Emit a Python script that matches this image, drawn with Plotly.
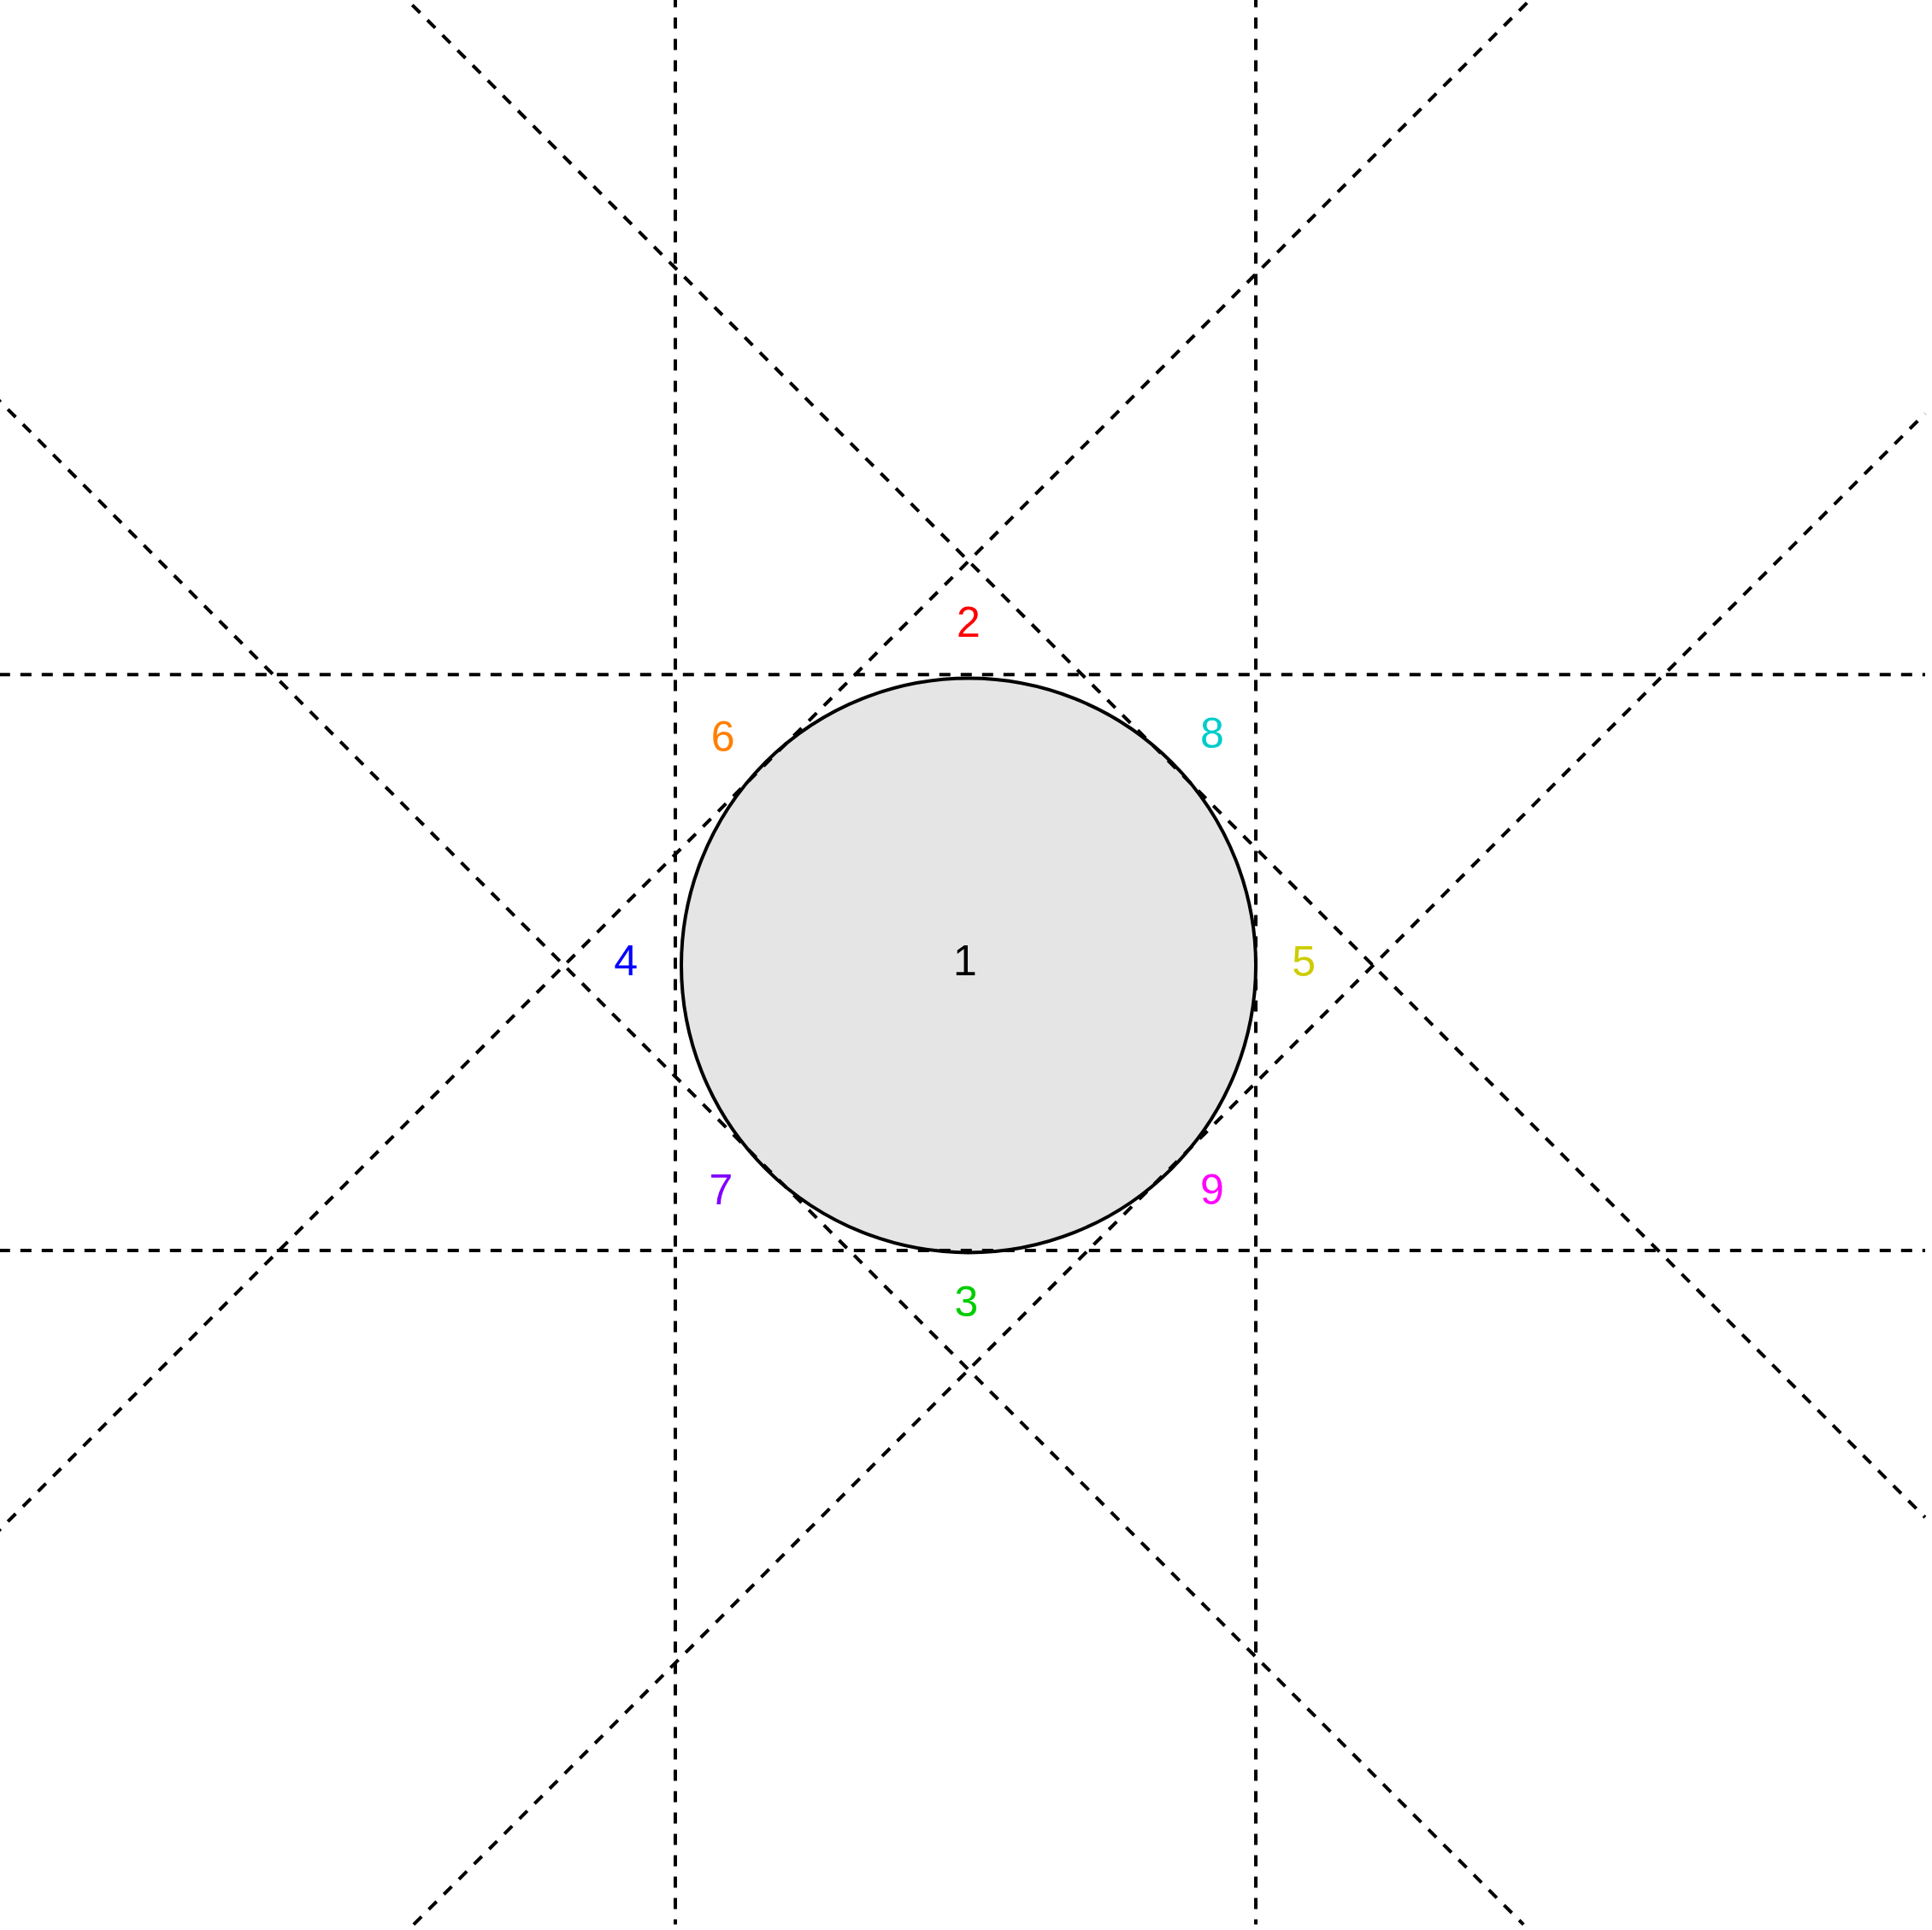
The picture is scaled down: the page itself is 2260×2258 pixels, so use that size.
import plotly.graph_objects as go

# ---- data (data units, circle radius = 1) ----
CIRCLE_CX = 0.0
CIRCLE_CY = 0.0
CIRCLE_R = 1.0
CIRCLE_FILL = "rgb(229,229,229)"

VLINES_X = [-1.021, 1.0]
HLINES_Y = [1.013, -0.993]
DIAG_C = 1.408
DIAG_SLOPES = [-1, -1, 1, 1]
DIAG_INTERCEPTS = [DIAG_C, -DIAG_C, DIAG_C, -DIAG_C]

LABELS = ["1", "2", "3", "4", "5", "6", "7", "8", "9"]
LABEL_X = [-0.012, 0.0, -0.008, -1.193, 1.167, -0.855, -0.862, 0.848, 0.848]
LABEL_Y = [0.004, 1.183, -1.184, 0.004, 0.001, 0.784, -0.795, 0.796, -0.795]
LABEL_COLORS = ["#000000", "#ff0000", "#00cc00", "#0000ff", "#cccc00",
                "#ff8000", "#8000ff", "#00cccc", "#ff00ff"]

X_RANGE = [-3.372, 3.354]
Y_RANGE = [-3.359, 3.362]
EXT_XLO, EXT_XHI = -3.45, 3.33
EXT_YLO, EXT_YHI = -3.34, 3.45

LINE_STYLE = dict(color="black", width=4, dash="13px,12px")

fig = go.Figure()

for xv in VLINES_X:
    fig.add_trace(go.Scatter(x=[xv, xv], y=[EXT_YHI, EXT_YLO], mode="lines",
                             line=LINE_STYLE, hoverinfo="skip", showlegend=False))
for yv in HLINES_Y:
    fig.add_trace(go.Scatter(x=[EXT_XLO, EXT_XHI], y=[yv, yv], mode="lines",
                             line=LINE_STYLE, hoverinfo="skip", showlegend=False))

for m, b in zip(DIAG_SLOPES, DIAG_INTERCEPTS):
    if m > 0:
        lo, hi = EXT_YLO - b, EXT_YHI - b
    else:
        lo, hi = b - EXT_YHI, b - EXT_YLO
    x0 = max(EXT_XLO, lo)
    x1 = min(EXT_XHI, hi)
    fig.add_trace(go.Scatter(x=[x0, x1], y=[m * x0 + b, m * x1 + b], mode="lines",
                             line=LINE_STYLE, hoverinfo="skip", showlegend=False))

fig.add_trace(go.Scatter(x=LABEL_X, y=LABEL_Y, mode="text", text=LABELS,
                         textposition="middle center",
                         textfont=dict(family="Liberation Sans, Arial, sans-serif",
                                       size=50, color=LABEL_COLORS),
                         hoverinfo="skip", showlegend=False))

fig.add_shape(type="circle", xref="x", yref="y",
              x0=CIRCLE_CX - CIRCLE_R, x1=CIRCLE_CX + CIRCLE_R,
              y0=CIRCLE_CY - CIRCLE_R, y1=CIRCLE_CY + CIRCLE_R,
              line=dict(color="black", width=4), fillcolor=CIRCLE_FILL, layer="below")

fig.update_xaxes(range=X_RANGE, visible=False, showgrid=False, zeroline=False)
fig.update_yaxes(range=Y_RANGE, visible=False, showgrid=False, zeroline=False)
fig.update_layout(width=2260, height=2258, margin=dict(l=0, r=0, t=0, b=0, pad=0),
                  paper_bgcolor="white", plot_bgcolor="white", showlegend=False)

fig.write_html("out.html", config={"displayModeBar": False},
               post_script="document.body.style.margin='0';document.body.style.padding='0';")
